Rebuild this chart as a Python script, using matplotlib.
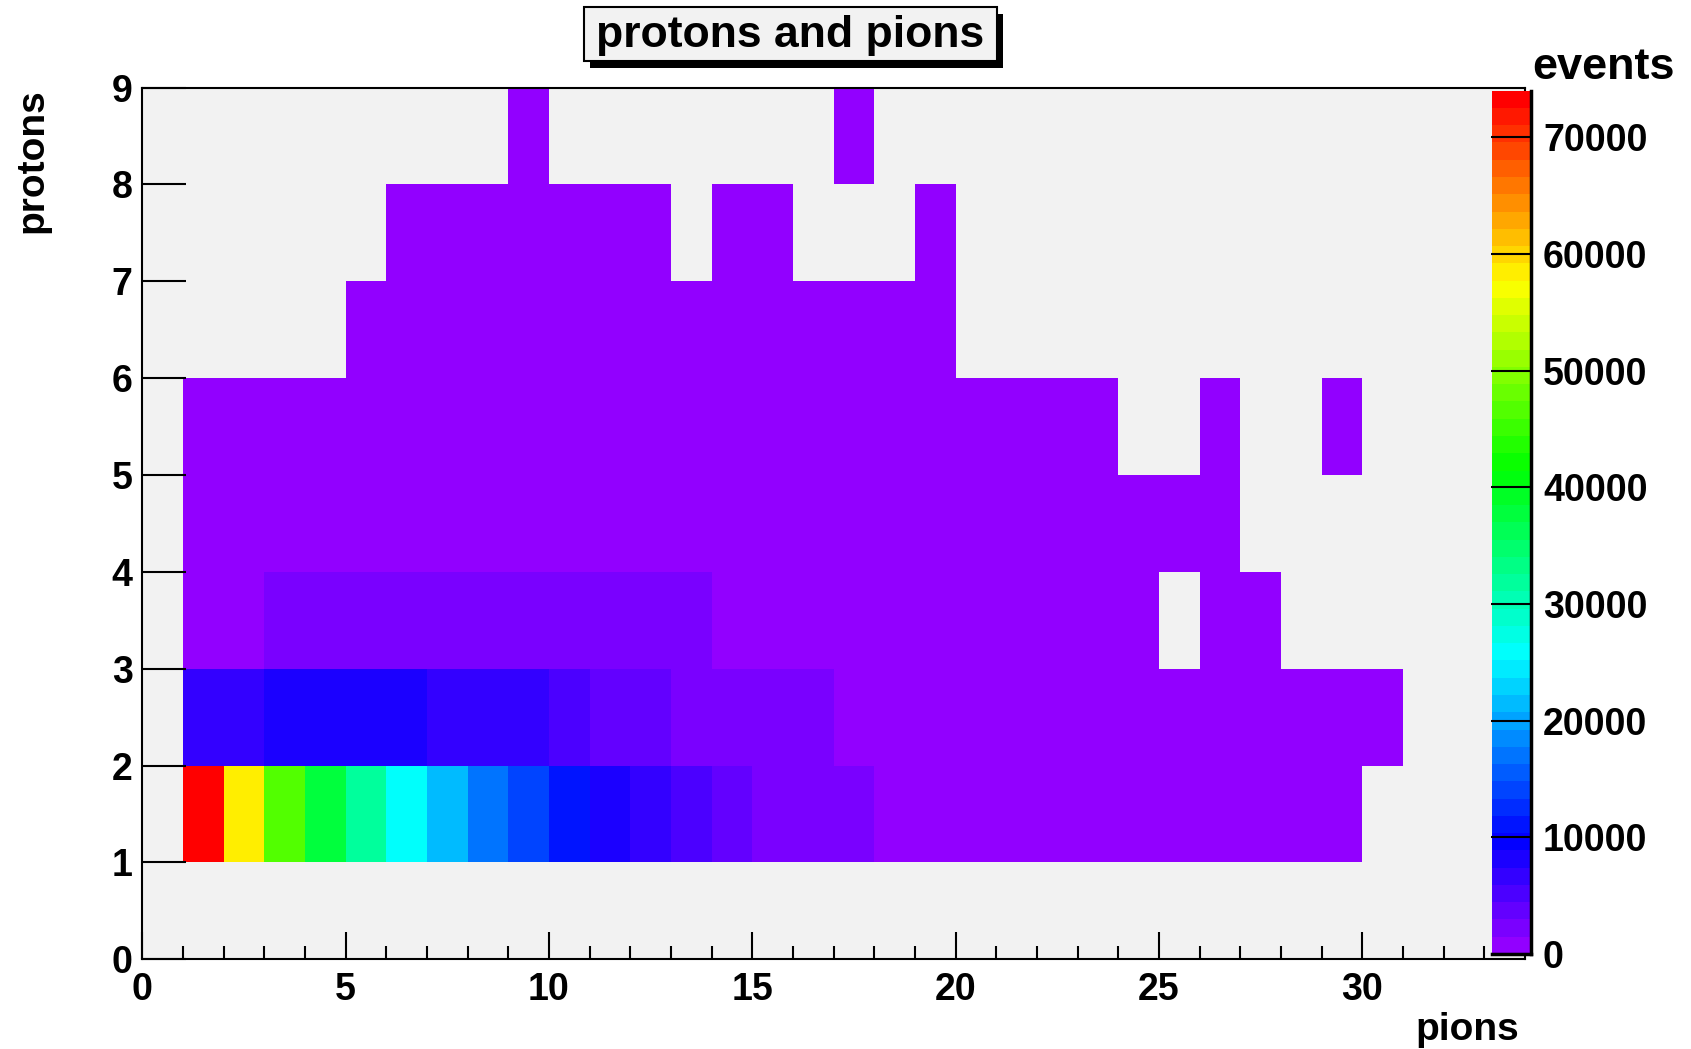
import colorsys

import numpy as np
import matplotlib
matplotlib.use("Agg")
import matplotlib.pyplot as plt
from matplotlib.colors import ListedColormap, BoundaryNorm
from matplotlib.patches import Rectangle

plt.rcParams.update({
    "font.family": "Liberation Sans",
    "font.weight": "bold",
    "text.color": "black",
})

# event counts per (protons, pions) bin; list index = number of pions
N_PIONS = 34
protons_1 = [0, 73900, 58300, 46500, 38200, 31800, 25800, 21400, 17000, 14000,
             11100, 8100, 6600, 5200, 3700, 2500, 2200, 1900, 1300, 1100,
             900, 750, 600, 480, 380, 300, 230, 170, 120, 80]
protons_2 = [0, 6300, 7000, 8500, 8800, 8400, 7700, 7100, 6700, 6100,
             5300, 4300, 3500, 2800, 2400, 2000, 1600, 1300, 1050, 850,
             700, 560, 450, 360, 280, 220, 170, 130, 90, 60, 40]
protons_3 = [0, 900, 1400, 2100, 2600, 2800, 2700, 2500, 2300, 2100,
             1900, 1800, 1650, 1520, 1350, 1150, 950, 800, 650, 520,
             400, 300, 220, 160, 110, 0, 50, 30]
protons_4 = [0, 300, 700, 1000, 1200, 1250, 1200, 1100, 1000, 900,
             800, 700, 600, 500, 420, 350, 280, 220, 170, 130,
             100, 70, 50, 35, 25, 15, 8]
protons_5 = [0, 60, 150, 250, 320, 350, 340, 310, 280, 240,
             200, 170, 140, 110, 90, 70, 55, 40, 30, 22,
             15, 10, 6, 4, 0, 0, 2, 0, 0, 1]
protons_6 = [0, 0, 0, 0, 0, 20, 35, 45, 50, 48,
             42, 36, 30, 24, 18, 13, 9, 6, 4, 2]
protons_7 = [0, 0, 0, 0, 0, 0, 3, 5, 6, 7,
             6, 5, 4, 0, 3, 2, 0, 0, 0, 1]
protons_8 = [0, 0, 0, 0, 0, 0, 0, 0, 0, 1,
             0, 0, 0, 0, 0, 0, 0, 1]

Z_MAX = 74000
cbar_ticks = [0, 10000, 20000, 30000, 40000, 50000, 60000, 70000]


def pad(row):
    return row + [0] * (N_PIONS - len(row))


rows = [[0] * N_PIONS] + [pad(r) for r in (protons_1, protons_2, protons_3, protons_4,
                                           protons_5, protons_6, protons_7, protons_8)]
counts = np.ma.masked_equal(np.array(rows, dtype=float), 0)

# 50-step violet -> red "pretty palette" in HLS
palette = ListedColormap([colorsys.hls_to_rgb((280 - (i + 1) * 5.6) / 360, 0.5, 1.0)
                          for i in range(50)])
norm = BoundaryNorm(np.linspace(0, Z_MAX, 51), 50)

W, H = 1691, 1049
fig = plt.figure(figsize=(W / 100, H / 100), dpi=100)
fig.patch.set_facecolor("white")


def fx(px):
    return px / W


def fy(py):
    return 1 - py / H


ax = fig.add_axes([fx(142.3), fy(959.3), fx(1525) - fx(142.3), fy(87.5) - fy(959.3)])
ax.set_facecolor("#f2f2f2")
mesh = ax.pcolormesh(np.arange(N_PIONS + 1), np.arange(len(rows) + 1), counts,
                     cmap=palette, norm=norm)
ax.set_xlim(0, N_PIONS)
ax.set_ylim(0, 9)

ax.set_xticks(range(0, 31, 5))
ax.set_xticks(range(0, N_PIONS), minor=True)
ax.set_yticks(range(0, 10))
ax.tick_params(axis="x", which="major", direction="in", length=19.2, width=1.5,
               labelsize=27, pad=9)
ax.tick_params(axis="x", which="minor", direction="in", length=9.6, width=1.5)
ax.tick_params(axis="y", which="major", direction="in", length=31.7, width=1.5,
               labelsize=27, pad=7)
for s in ax.spines.values():
    s.set_linewidth(1.5)

# palette axis, drawn over the right edge of the frame
cax = fig.add_axes([fx(1492.3), fy(954), fx(1531) - fx(1492.3), fy(90.7) - fy(954)])
cb = fig.colorbar(mesh, cax=cax, spacing="proportional", ticks=cbar_ticks, format="%d")
cb.outline.set_visible(False)
cb.minorticks_off()
cax.tick_params(axis="y", direction="in", length=29, width=1.5, labelsize=27,
                pad=8.6, color="black")
cax.plot([1, 1], [0, 1], transform=cax.transAxes, color="black", lw=2.5, clip_on=False)
cax.plot([0, 1], [0, 0], transform=cax.transAxes, color="black", lw=2.5, clip_on=False)

# title box with drop shadow
bx0, by0, bx1, by1 = 584, 7.3, 997, 60.7
fig.patches.append(Rectangle((fx(bx0 + 6), fy(by1 + 7)), fx(bx1) - fx(bx0), fy(by0) - fy(by1),
                             transform=fig.transFigure, facecolor="black", edgecolor="none"))
fig.patches.append(Rectangle((fx(bx0), fy(by1)), fx(bx1) - fx(bx0), fy(by0) - fy(by1),
                             transform=fig.transFigure, facecolor="#f2f2f2",
                             edgecolor="black", lw=1.5))
fig.text(fx((bx0 + bx1) / 2), fy(46.7), "protons and pions", ha="center", va="baseline",
         fontsize=32)

fig.text(fx(1675), fy(79.3), "events", ha="right", va="baseline", fontsize=32.5)
fig.text(fx(1519), fy(1040), "pions", ha="right", va="baseline", fontsize=28)
fig.text(fx(42.3), fy(88), "protons", rotation=90, rotation_mode="anchor",
         ha="right", va="baseline", fontsize=28)

fig.savefig("out.png", dpi=100, facecolor="white")
